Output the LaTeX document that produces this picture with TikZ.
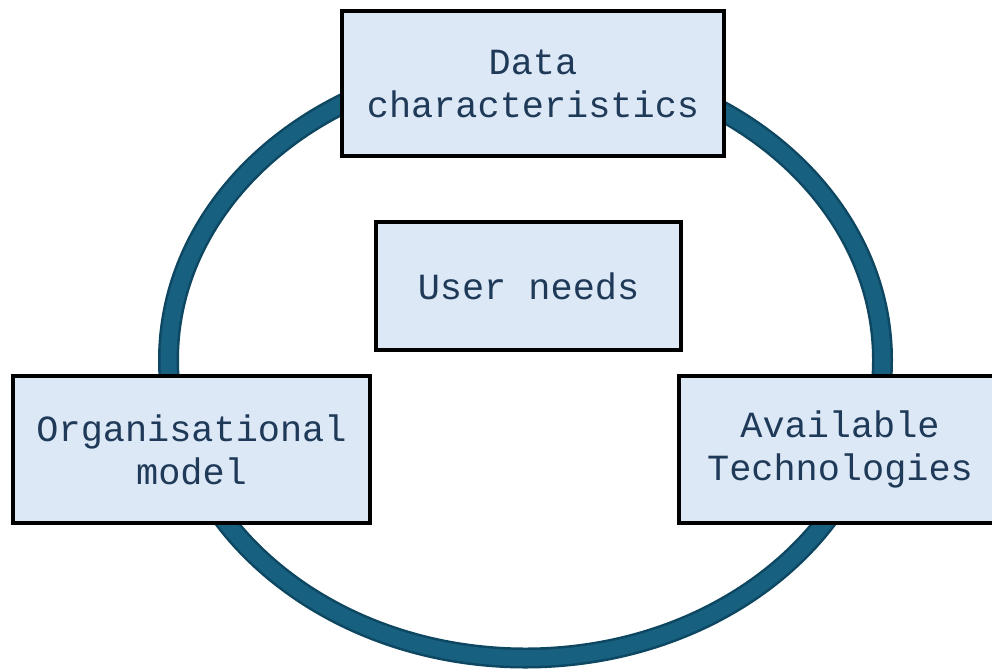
\documentclass[tikz,border=0pt]{standalone}
\usepackage{fontspec}
\setmonofont{Liberation Mono}
\definecolor{ringdark}{HTML}{0E4762}
\definecolor{ringfill}{HTML}{17607F}
\definecolor{boxfill}{HTML}{DCE8F5}
\definecolor{txt}{HTML}{1F3A58}
\begin{document}
\begin{tikzpicture}[x=1pt,y=-1pt,
  blockbox/.style={draw=black,line width=4pt,fill=boxfill,inner sep=0pt,
    text=txt,font=\ttfamily\fontsize{36.9}{43}\selectfont,align=center}]
\useasboundingbox (0,0) rectangle (992,670);
% ring
\draw[ringdark,line width=21pt] (525.5,360) ellipse [x radius=357,y radius=298];
\draw[ringfill,line width=16pt] (525.5,360) ellipse [x radius=357,y radius=298];
% boxes
\node[blockbox,minimum width=382pt,minimum height=145pt] (data) at (533,83.5) {Data\\characteristics};
\node[blockbox,minimum width=305pt,minimum height=128pt] (user) at (528.5,286) {User needs};
\node[blockbox,minimum width=357pt,minimum height=147pt] (org) at (191.5,449.5) {Organisational\\model};
\node[blockbox,minimum width=322pt,minimum height=147pt] (tech) at (840,449.5) {Available\\Technologies};
\end{tikzpicture}
\end{document}
